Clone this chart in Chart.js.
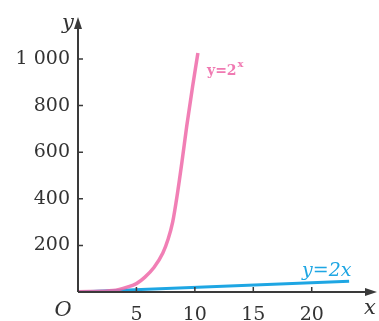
<!DOCTYPE html>
<html>
<head>
<meta charset="utf-8">
<script src="https://cdn.jsdelivr.net/npm/chart.js@4"></script>
<style>
  html, body { margin: 0; padding: 0; background: #fff; }
  #wrap { width: 379px; height: 321px; }
</style>
</head>
<body>
<div id="wrap"><canvas id="myChart" width="379" height="321"></canvas></div>
<script>
// values
var expX = [0, 1, 2, 3, 4.2, 5, 5.73, 6.5, 7.26, 7.7, 8.1, 8.5, 8.9, 9.3, 9.8, 10.26];
var expY = [1, 2, 3, 6, 21, 36, 64, 105, 167, 225, 300, 420, 560, 710, 880, 1026];
var linX = [0, 23.2];
var linY = [0, 46.4];
var xTicks = [5, 10, 15, 20];
var yTicks = [200, 400, 600, 800, 1000];
var yTickLabels = ["200", "400", "600", "800", "1 000"];

function pts(xs, ys) {
  return xs.map(function (x, i) { return {x: x, y: ys[i]}; });
}

var serif = "'DejaVu Serif', 'Liberation Serif', serif";
var axisColor = "#3a3a3a";

// axis arrows, tick marks and the O / x / y / curve labels
var decor = {
  id: 'decor',
  afterDraw: function (chart) {
    var c = chart.ctx;
    var xs = chart.scales.x, ys = chart.scales.y;
    var ox = xs.getPixelForValue(0), oy = ys.getPixelForValue(0);
    var right = chart.chartArea.right, top = chart.chartArea.top;
    c.save();
    c.strokeStyle = axisColor;
    c.fillStyle = axisColor;
    c.lineWidth = 2;
    c.beginPath();
    c.moveTo(ox, oy); c.lineTo(right - 4, oy);
    c.moveTo(ox, oy); c.lineTo(ox, top + 4);
    c.stroke();
    // arrow heads
    c.beginPath();
    c.moveTo(right + 1, oy); c.lineTo(right - 11, oy - 4); c.lineTo(right - 11, oy + 4); c.closePath();
    c.fill();
    c.beginPath();
    c.moveTo(ox, top - 1); c.lineTo(ox - 4, top + 11); c.lineTo(ox + 4, top + 11); c.closePath();
    c.fill();
    // tick marks
    c.lineWidth = 1.5;
    c.beginPath();
    xTicks.forEach(function (v) {
      var px = xs.getPixelForValue(v);
      c.moveTo(px, oy); c.lineTo(px, oy - 5);
    });
    yTicks.forEach(function (v) {
      var py = ys.getPixelForValue(v);
      c.moveTo(ox, py); c.lineTo(ox + 5, py);
    });
    c.stroke();
    // axis letters
    c.fillStyle = "#333";
    c.font = "italic 21px " + serif;
    c.textBaseline = "alphabetic";
    c.textAlign = "center";
    c.fillText("O", ox - 15, oy + 24);
    c.fillText("x", right - 6, oy + 22);
    c.fillText("y", ox - 10, top + 11);
    // curve labels
    c.textAlign = "left";
    c.fillStyle = "#f07ab2";
    c.font = "bold 14px " + serif;
    c.fillText("y=2", 207, 75);
    var w = c.measureText("y=2").width;
    c.font = "bold 10px " + serif;
    c.fillText("x", 207 + w + 1, 67);
    c.fillStyle = "#1ea6e3";
    c.font = "italic 19px " + serif;
    c.fillText("y=2x", 302, 276);
    c.restore();
  }
};

var ctx = document.getElementById('myChart').getContext('2d');
var myChart = new Chart(ctx, {
  type: 'scatter',
  data: {
    datasets: [
      {
        label: "y=2^x",
        data: pts(expX, expY),
        showLine: true,
        cubicInterpolationMode: 'monotone',
        borderColor: "rgba(238,105,168,0.85)",
        borderWidth: 3.5,
        pointRadius: 0
      },
      {
        label: "y=2x",
        data: pts(linX, linY),
        showLine: true,
        borderColor: "#1ea6e3",
        borderWidth: 3,
        pointRadius: 0
      }
    ]
  },
  plugins: [decor],
  options: {
    responsive: false,
    animation: false,
    layout: { padding: { top: 18, right: 3, left: 0, bottom: 0 } },
    scales: {
      x: {
        type: 'linear',
        min: 0,
        max: 25.5,
        border: { display: false },
        grid: { display: false },
        afterFit: function (s) { s.height = 29; },
        afterBuildTicks: function (s) {
          s.ticks = xTicks.map(function (v) { return {value: v}; });
        },
        ticks: {
          color: "#333",
          padding: 4,
          font: { family: serif, size: 19 }
        }
      },
      y: {
        type: 'linear',
        min: 0,
        max: 1176,
        border: { display: false },
        grid: { display: false },
        afterFit: function (s) { s.width = 78; },
        afterBuildTicks: function (s) {
          s.ticks = yTicks.map(function (v) { return {value: v}; });
        },
        ticks: {
          color: "#333",
          padding: 0,
          font: { family: serif, size: 19 },
          callback: function (v) { return yTickLabels[yTicks.indexOf(v)]; }
        }
      }
    },
    plugins: {
      legend: { display: false },
      tooltip: { enabled: false }
    }
  }
});
</script>
</body>
</html>
